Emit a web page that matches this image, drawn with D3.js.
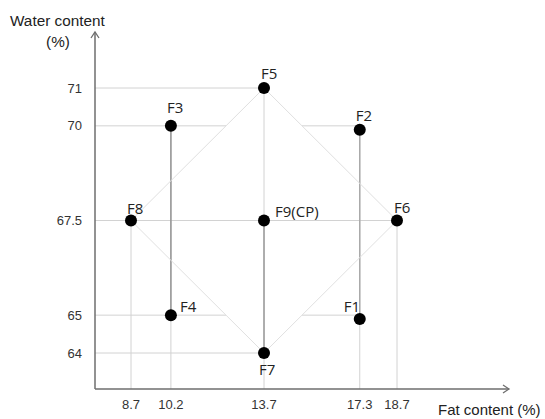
<!DOCTYPE html>
<html><head><meta charset="utf-8">
<script src="https://cdn.jsdelivr.net/npm/d3@7"></script>
<style>
html,body{margin:0;padding:0;background:#fff;}
svg{display:block;}
</style></head>
<body>
<svg id="chart" width="545" height="419"></svg>
<script>
// ---- data ----
const names = ["F1","F2","F3","F4","F5","F6","F7","F8","F9(CP)"];
const fat   = [17.3, 17.3, 10.2, 10.2, 13.7, 18.7, 13.7, 8.7, 13.7];
const water = [64.9, 69.9, 70, 65, 71, 67.5, 64, 67.5, 67.5];
const xTicks = [8.7, 10.2, 13.7, 17.3, 18.7];
const yTicks = [64, 65, 67.5, 70, 71];
const diamond = ["F5","F6","F7","F8","F5"];
const pairs = [["F3","F4"],["F2","F1"],["F9(CP)","F7"]];
const xTitle = "Fat content (%)";
const yTitle = ["Water content", "(%)"];

// ---- layout ----
const svg = d3.select("#chart");
const ox = 95, oy = 389;           // axis origin
const xEnd = 509, yEnd = 32;       // arrow tips
const x = d3.scaleLinear().domain([8.7, 18.7]).range([131, 397]);
const y = d3.scaleLinear().domain([64, 71]).range([353, 88]);
const pts = names.map((n,i)=>({name:n, fat:fat[i], water:water[i]}));
const P = Object.fromEntries(pts.map(p=>[p.name,p]));
const labelOff = {"F1":[-16,-7],"F2":[-4,-9],"F3":[-4,-13],"F4":[9,-3],"F5":[-3,-9],
                  "F6":[-3,-8],"F7":[-5,22],"F8":[-4,-7],"F9(CP)":[11,-4]};
const grid = "#d2d2d2";

function edgeX(py, side){
  const top=P["F5"], bot=P["F7"], mid = side<0?P["F8"]:P["F6"];
  const segs=[[top,mid],[mid,bot]];
  for(const [a,b] of segs){
    const ya=y(a.water), yb=y(b.water);
    if((py-ya)*(py-yb)<=0){ const t=(py-ya)/(yb-ya); return x(a.fat)+t*(x(b.fat)-x(a.fat)); }
  }
  return null;
}

const hEnds = {71: x(P["F5"].fat), 70: edgeX(y(70),-1), 67.5: x(P["F6"].fat), 65: edgeX(y(65),-1), 64: x(P["F7"].fat)};
svg.append("g").selectAll("line").data(yTicks).join("line")
  .attr("x1",ox).attr("x2",d=>hEnds[d]).attr("y1",d=>y(d)).attr("y2",d=>y(d))
  .attr("stroke",grid).attr("stroke-width",1);
svg.append("g").selectAll("line").data([70,65]).join("line")
  .attr("x1",d=>edgeX(y(d),1)).attr("x2",x(17.3)).attr("y1",d=>y(d)).attr("y2",d=>y(d))
  .attr("stroke",grid).attr("stroke-width",1);

const vTop = {8.7:"F8",10.2:"F3",13.7:"F5",17.3:"F2",18.7:"F6"};
svg.append("g").selectAll("line").data(xTicks).join("line")
  .attr("x1",d=>x(d)).attr("x2",d=>x(d)).attr("y1",oy).attr("y2",d=>y(P[vTop[d]].water))
  .attr("stroke",grid).attr("stroke-width",1);

const pairCol = ["#949494","#aaaaaa","#9a9a9a"];
svg.append("g").selectAll("line").data(pairs).join("line")
  .attr("x1",d=>x(P[d[0]].fat)).attr("x2",d=>x(P[d[1]].fat))
  .attr("y1",d=>y(P[d[0]].water)).attr("y2",d=>y(P[d[1]].water))
  .attr("stroke",(d,i)=>pairCol[i]).attr("stroke-width",1.5);

svg.append("path")
  .attr("d", d3.line().x(n=>x(P[n].fat)).y(n=>y(P[n].water))(diamond))
  .attr("fill","none").attr("stroke","#e0e0e0").attr("stroke-width",1);

const axisC = "#6e6e6e";
svg.append("line").attr("x1",ox).attr("y1",oy).attr("x2",ox).attr("y2",yEnd)
  .attr("stroke",axisC).attr("stroke-width",1.5);
svg.append("line").attr("x1",ox).attr("y1",oy).attr("x2",xEnd).attr("y2",oy)
  .attr("stroke",axisC).attr("stroke-width",1.5);
svg.append("path").attr("d",`M${ox-4},${yEnd+6}L${ox},${yEnd}L${ox+4},${yEnd+6}`)
  .attr("fill","none").attr("stroke",axisC).attr("stroke-width",1.3);
svg.append("path").attr("d",`M${xEnd-6},${oy-4}L${xEnd},${oy}L${xEnd-6},${oy+4}`)
  .attr("fill","none").attr("stroke",axisC).attr("stroke-width",1.3);

const tf = "Liberation Sans, Arial, sans-serif";
svg.append("g").selectAll("text").data(yTicks).join("text")
  .attr("x",82).attr("y",d=>y(d)+4.5).attr("text-anchor","end")
  .attr("font-family",tf).attr("font-size",13).attr("fill","#333").text(d=>d);
svg.append("g").selectAll("text").data(xTicks).join("text")
  .attr("x",d=>x(d)).attr("y",409).attr("text-anchor","middle")
  .attr("font-family",tf).attr("font-size",13).attr("fill","#333").text(d=>d);

svg.append("text").attr("x",10).attr("y",26).attr("font-family",tf).attr("font-size",15.3)
  .attr("fill","#222").text(yTitle[0]);
svg.append("text").attr("x",58).attr("y",47).attr("text-anchor","middle").attr("font-family",tf)
  .attr("font-size",15.3).attr("fill","#222").text(yTitle[1]);
svg.append("text").attr("x",438).attr("y",415).attr("font-family",tf).attr("font-size",15)
  .attr("fill","#222").text(xTitle);

svg.append("g").selectAll("circle").data(pts).join("circle")
  .attr("cx",d=>x(d.fat)).attr("cy",d=>y(d.water)).attr("r",6).attr("fill","#000");
svg.append("g").selectAll("text").data(pts).join("text")
  .attr("x",d=>x(d.fat)+labelOff[d.name][0]).attr("y",d=>y(d.water)+labelOff[d.name][1])
  .attr("font-family","Open Sans, Noto Sans, sans-serif").attr("font-size",15).attr("fill","#222")
  .text(d=>d.name);
</script>
</body></html>
